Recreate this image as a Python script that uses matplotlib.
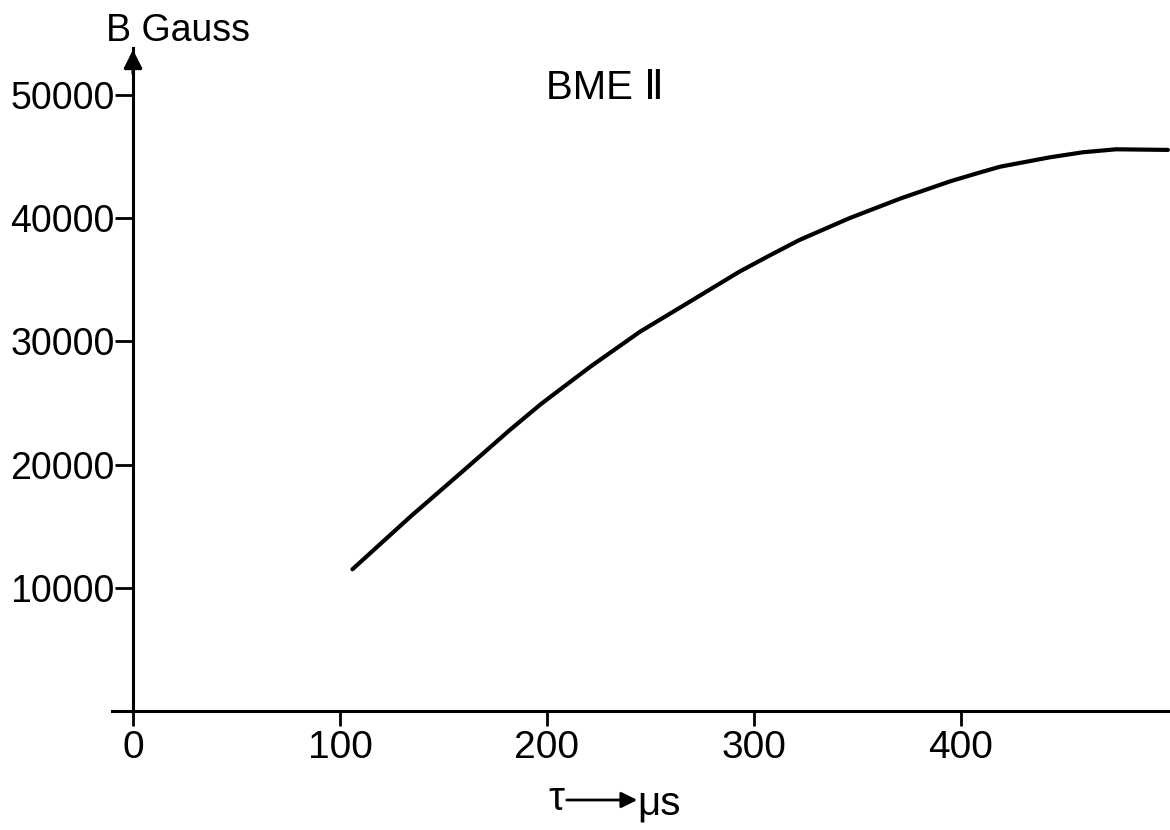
import numpy as np
import matplotlib
matplotlib.use('Agg')
import matplotlib.pyplot as plt
from matplotlib.patches import FancyArrowPatch

# データ
tau_us = [106, 134, 160, 182, 197, 206, 221, 245, 269, 293, 308, 322,
          346, 371, 395, 409, 419, 443, 459, 475, 500]
b_gauss = [11500, 15770, 19560, 22800, 24900, 26050, 27950, 30790, 33220, 35660, 37010, 38230,
           39990, 41610, 43000, 43700, 44180, 44940, 45350, 45590, 45540]
x_ticks = [0, 100, 200, 300, 400]
y_ticks = [10000, 20000, 30000, 40000, 50000]

plt.rcParams['font.family'] = ['Liberation Sans', 'DejaVu Sans']

fig = plt.figure(figsize=(11.7, 8.3), dpi=100)
ax = fig.add_axes([0.096, 0.1434, 0.904, 0.7986])

ax.plot(tau_us, b_gauss, color='black', linewidth=3, solid_capstyle='round')

ax.set_xlim(-10, 501)
ax.set_ylim(0, 53800)

# 軸の見た目
for s in ['top', 'right']:
    ax.spines[s].set_visible(False)
ax.spines['left'].set_position(('data', 0))
ax.spines['left'].set_linewidth(2.2)
ax.spines['bottom'].set_linewidth(2.2)

ax.set_xticks(x_ticks)
ax.set_yticks(y_ticks)
ax.tick_params(axis='x', direction='out', length=11, width=2, pad=3, labelsize=28)
ax.tick_params(axis='y', direction='out', length=13, width=2, pad=0, labelsize=27)

# y軸の矢印
ax.annotate('', xy=(0, 53900), xytext=(0, 51500),
            arrowprops=dict(arrowstyle='-|>', color='black', lw=2.2, mutation_scale=28),
            annotation_clip=False)

# ラベル
fig.text(106 / 1170, 1 - 31 / 830, 'B Gauss', fontsize=27, ha='left', va='center')
fig.text(605 / 1170, 1 - 88 / 830, 'BME Ⅱ', fontsize=29, ha='center', va='center')
fig.text(556 / 1170, 1 - 799 / 830, 'τ', fontsize=29, ha='center', va='center')
fig.text(637 / 1170, 1 - 803 / 830, 'μs', fontsize=29, ha='left', va='center')
fig.patches.append(FancyArrowPatch(
    (564 / 1170, 1 - 800 / 830), (640 / 1170, 1 - 800 / 830),
    transform=fig.transFigure, arrowstyle='-|>', mutation_scale=24,
    color='black', lw=2))

plt.savefig('out.png', dpi=100)
